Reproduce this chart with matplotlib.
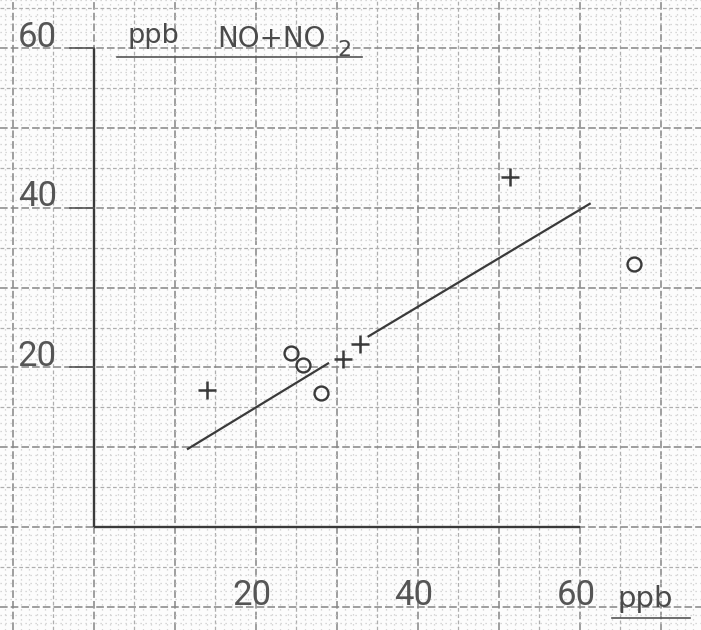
import matplotlib
matplotlib.use("Agg")
import matplotlib.pyplot as plt
import numpy as np

# ---- data ----
plus_x = [14.0, 30.8, 32.9, 51.3]
plus_y = [17.2, 21.0, 22.9, 43.9]
circ_x = [24.3, 25.8, 28.0, 66.7]
circ_y = [21.8, 20.3, 16.8, 33.0]
line1_x = [11.6, 28.9]
line1_y = [9.8, 20.5]
line2_x = [33.9, 61.2]
line2_y = [23.9, 40.5]
y_ticks = [20, 40, 60]
y_tick_labels = ["20", "40", "60"]
x_ticks = [20, 40, 60]
x_tick_labels = ["20", "40", "60"]
y_title_unit = "ppb"
y_title_species = "NO+NO"
y_title_sub = "2"
x_unit = "ppb"

INK = "#3a3a3a"
TXT = "#4a4a4a"
DIGIT_FONT = ["Roboto", "DejaVu Sans"]
LETTER_FONT = ["DejaVu Sans"]

fig = plt.figure(figsize=(7.01, 6.30), dpi=100)
fig.patch.set_facecolor("#fcfcfc")
ax = fig.add_axes([0, 0, 1, 1])
ax.set_xlim(-11.6, 74.94)
ax.set_ylim(-12.9, 66.04)
ax.axis("off")

# ---- graph paper ----
for v in np.arange(-11, 75):
    if v % 10 == 0:
        ax.axvline(v, color="#858585", lw=1.1, ls=(0, (5, 2)), zorder=0)
    elif v % 5 == 0:
        ax.axvline(v, color="#aeaeae", lw=0.9, ls=(0, (3, 2)), zorder=0)
    else:
        ax.axvline(v, color="#cbcbcb", lw=0.9, ls=(0, (1, 3)), zorder=0)
for v in np.arange(-12, 67):
    if v % 10 == 0:
        ax.axhline(v, color="#858585", lw=1.1, ls=(0, (5, 2)), zorder=0)
    elif v % 5 == 0:
        ax.axhline(v, color="#aeaeae", lw=0.9, ls=(0, (3, 2)), zorder=0)
    else:
        ax.axhline(v, color="#cbcbcb", lw=0.9, ls=(0, (1, 3)), zorder=0)

# ---- axes (L shape) ----
ax.plot([0, 0], [0, y_ticks[-1]], color=INK, lw=1.7, solid_capstyle="butt", zorder=3)
ax.plot([0, x_ticks[-1]], [0, 0], color=INK, lw=1.7, solid_capstyle="butt", zorder=3)

# y ticks + labels
for t, lab in zip(y_ticks, y_tick_labels):
    ax.plot([-3.0, 0], [t, t], color="#555555", lw=1.2, zorder=3)
    ax.text(-7.0, t + 0.2, lab, ha="center", va="baseline", fontsize=25,
            family=DIGIT_FONT, fontweight="normal", color="#555555", zorder=5)

# x labels
for t, lab in zip(x_ticks, x_tick_labels):
    ax.text(t - 0.5, -9.8, lab, ha="center", va="baseline", fontsize=25,
            family=DIGIT_FONT, fontweight="normal", color="#555555", zorder=5)

# x unit, underlined
ax.text(68.1, -10.0, x_unit, ha="center", va="baseline", fontsize=21,
        family=LETTER_FONT, color=TXT, zorder=5)
ax.plot([63.95, 73.6], [-11.4, -11.4], color="#555555", lw=1.2, zorder=3)

# y title, underlined
ax.text(7.3, 60.65, y_title_unit, ha="center", va="baseline", fontsize=19.5,
        family=LETTER_FONT, color=TXT, zorder=5)
ax.text(15.2, 60.15, y_title_species, ha="left", va="baseline", fontsize=20,
        family=LETTER_FONT, color=TXT, zorder=5)
ax.text(30.1, 59.0, y_title_sub, ha="left", va="baseline", fontsize=16,
        family=LETTER_FONT, color=TXT, zorder=5)
ax.plot([2.84, 33.1], [58.9, 58.9], color="#555555", lw=1.2, zorder=3)

# ---- regression line (drawn in two pieces) ----
ax.plot(line1_x, line1_y, color=INK, lw=1.6, zorder=3)
ax.plot(line2_x, line2_y, color=INK, lw=1.6, zorder=3)

# ---- points ----
ax.plot(plus_x, plus_y, ls="none", marker="+", markersize=13, mew=1.8,
        color=INK, zorder=4)
ax.plot(circ_x, circ_y, ls="none", marker="o", markersize=10, mew=1.7,
        mfc="none", mec=INK, zorder=4)

fig.savefig("out.png", dpi=100, facecolor=fig.get_facecolor())
